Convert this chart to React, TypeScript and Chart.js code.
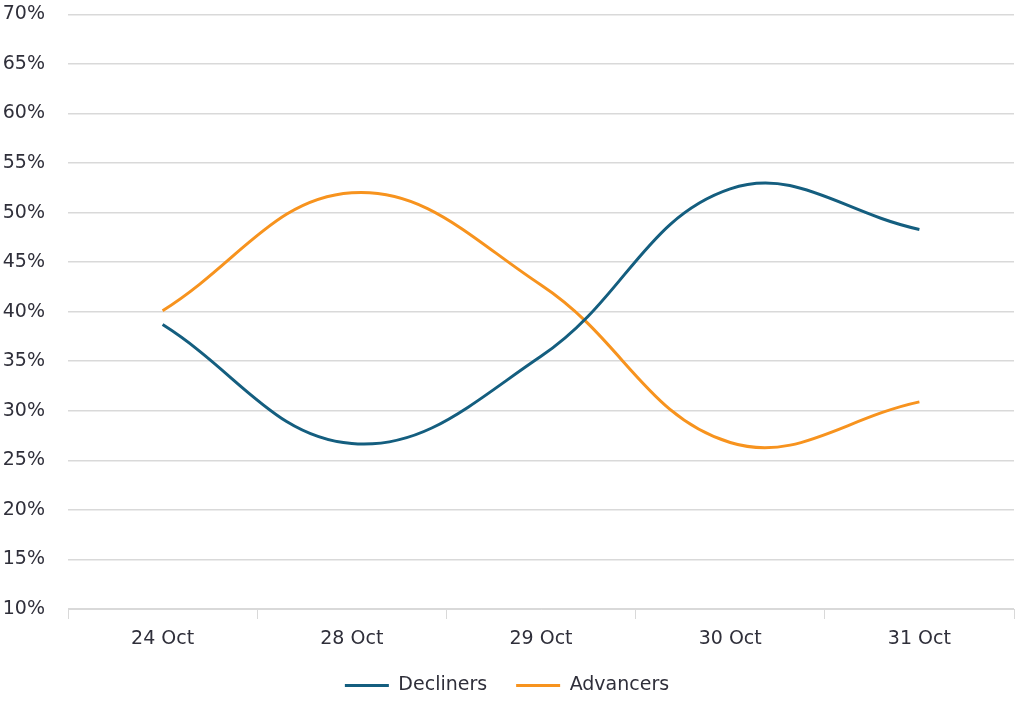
import React, { useEffect, useRef } from "react";
import { Chart, registerables } from "chart.js";

Chart.register(...registerables);

const categories = ["24 Oct", "28 Oct", "29 Oct", "30 Oct", "31 Oct"];
const decliners = [38.7, 26.7, 35.5, 52.4, 48.3];
const advancers = [40.1, 52.0, 42.7, 26.8, 30.9];
const yMin = 10;
const yMax = 70;
const yStep = 5;

const FONT = "'DejaVu Sans', sans-serif";
const TEXT = "#2f2f3a";
const GRID = "#d9d9d9";

export default function App() {
  const ref = useRef<HTMLCanvasElement | null>(null);
  useEffect(() => {
    if (!ref.current) return;
    const chart = new Chart(ref.current, {
      type: "line",
      data: {
        labels: categories,
        datasets: [
          {
            label: "Decliners",
            data: decliners,
            borderColor: "#145e7f",
            backgroundColor: "#145e7f",
            borderWidth: 3,
            pointRadius: 0,
            tension: 0.4,
          },
          {
            label: "Advancers",
            data: advancers,
            borderColor: "#f7931e",
            backgroundColor: "#f7931e",
            borderWidth: 3,
            pointRadius: 0,
            tension: 0.4,
          },
        ],
      },
      options: {
        animation: false,
        responsive: true,
        maintainAspectRatio: false,
        layout: { padding: { top: 0, left: 0, right: 10, bottom: 8 } },
        plugins: {
          tooltip: { enabled: false },
          legend: {
            position: "bottom",
            labels: {
              usePointStyle: true,
              pointStyle: "line",
              pointStyleWidth: 44,
              padding: 29,
              color: TEXT,
              font: { family: FONT, size: 19 },
            },
          },
        },
        scales: {
          x: {
            offset: true,
            afterFit: (s: any) => {
              s.height = 38;
            },
            grid: {
              offset: true,
              drawOnChartArea: false,
              drawTicks: true,
              tickLength: 10,
              color: GRID,
            },
            border: { display: true, color: GRID, width: 1 },
            ticks: { color: TEXT, font: { family: FONT, size: 19 }, padding: 9 },
          },
          y: {
            min: yMin,
            max: yMax,
            afterFit: (s: any) => {
              s.width = 68;
            },
            grid: {
              color: GRID,
              lineWidth: 1.5,
              drawTicks: true,
              tickLength: 20,
              tickColor: "rgba(0,0,0,0)",
            },
            border: { display: false },
            ticks: {
              stepSize: yStep,
              color: TEXT,
              padding: 3,
              font: { family: FONT, size: 19 },
              callback: (v: any) => v + "%",
            },
          },
        },
      },
    });
    return () => chart.destroy();
  }, []);
  return (
    <div style={{ position: "absolute", left: 0, top: 0, width: 1024, height: 713, background: "#fff" }}>
      <canvas ref={ref} />
    </div>
  );
}
